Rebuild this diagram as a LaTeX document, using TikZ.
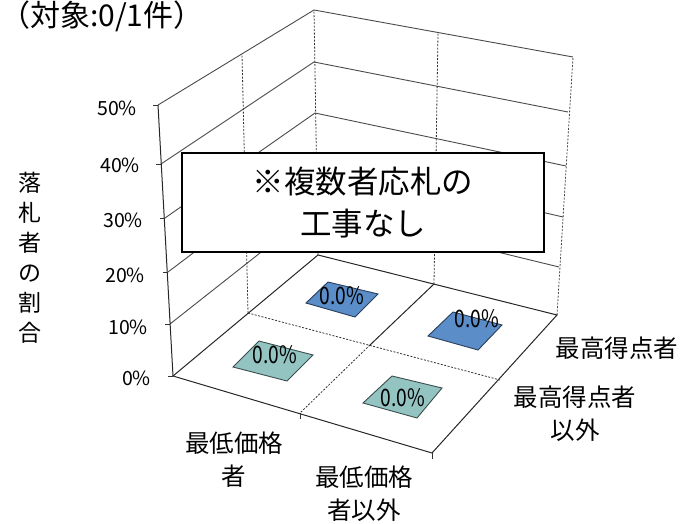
\documentclass[tikz,border=0pt]{standalone}
\usepackage{fontspec}
\setmainfont{Noto Sans CJK JP}
\usetikzlibrary{positioning}

\definecolor{barblue}{HTML}{5B8DC8}
\definecolor{barteal}{HTML}{93C4C2}
\definecolor{gridgray}{HTML}{4A4A4A}

\begin{document}
\begin{tikzpicture}[x=1pt, y=-1pt]
  \tikzset{wall/.style={gridgray, line width=0.9pt},
           floorline/.style={black!85, line width=1pt},
           midline/.style={black!80, line width=0.8pt, dash pattern=on 2pt off 1.5pt},
           tick/.style={black!80, line width=0.8pt},
           bar/.style={line width=0.9pt},
           pct/.style={font=\fontsize{24}{26}\selectfont, inner sep=0pt, xscale=0.8},
           cat/.style={font=\fontsize{24.5}{33}\selectfont, align=center, inner sep=0pt},
           ylbl/.style={font=\fontsize{19.5}{22}\selectfont, anchor=east, inner sep=0pt}}
  \useasboundingbox (0,0) rectangle (682,524);

  % L = left axis, B = back corner, R = right edge (0% ... 50%)
  \foreach \k/\lx/\ly/\bx/\by/\rx/\ry in {0/173/376/318/255/557/315,
      1/170/324/317/208/559/267, 2/168/272/316/160/563/217,
      3/165/218/315/113/566/166, 4/161/164/314/62/568/112,
      5/158/105/314/10/573/57}{
    \coordinate (L\k) at (\lx,\ly);
    \coordinate (B\k) at (\bx,\by);
    \coordinate (R\k) at (\rx,\ry);
  }
  \coordinate (F) at (432,453);   % front corner of floor
  \coordinate (Lt) at (242,54);
  \coordinate (Lm) at (248,313);
  \coordinate (Rt) at (438,33);
  \coordinate (Rm) at (434,284);
  \coordinate (Fm) at (300,413);
  \coordinate (Cm) at (500,380);
  \coordinate (X) at (370,345);

  % back walls
  \foreach \k in {1,...,5}
    \draw[wall] (L\k) -- (B\k) -- (R\k);
  \draw[midline] (B0) -- (B5);
  \draw[midline] (Lm) -- (Lt);
  \draw[midline] (Rm) -- (Rt);
  \draw[midline, gridgray] (R0) -- (R5);
  \draw[floorline] (L0) -- (L5);
  \foreach \k in {0,...,5}
    \draw[tick] (L\k) -- ++(-5,0);

  % floor
  \draw[floorline] (L0) -- (B0) -- (R0) -- (F) -- cycle;
  \draw[floorline] (Rm) -- (X);
  \draw[midline] (X) -- (Fm);
  \draw[midline] (Lm) -- (Cm);
  \draw[tick] (Fm) -- ++(0,6);
  \draw[tick] (F) -- ++(0,6);

  % bars (all 0.0%)
  \filldraw[bar, fill=barblue, draw=barblue!45!black]
    (306,303) -- (328,282) -- (378,294) -- (355,317) -- cycle;
  \filldraw[bar, fill=barblue, draw=barblue!45!black]
    (428,336) -- (453,312) -- (502,325) -- (478,350) -- cycle;
  \filldraw[bar, fill=barteal, draw=barteal!40!black]
    (233,367) -- (259,341) -- (313,355) -- (287,381) -- cycle;
  \filldraw[bar, fill=barteal, draw=barteal!40!black]
    (363,403) -- (392,376) -- (442,388) -- (417,418) -- cycle;
  \node[pct] (p1) at (342,296) {0.0\%};
  \node[pct] (p2) at (477,319) {0.0\%};
  \node[pct] (p3) at (275,355) {0.0\%};
  \node[pct] (p4) at (403,398) {0.0\%};

  % note box
  \node[draw, line width=2pt, fill=white, minimum width=362pt, minimum height=99pt,
        align=center, font=\fontsize{31.5}{42}\selectfont] (note) at (363,202.5)
        {※複数者応札の\\工事なし};

  % labels
  \node[font=\fontsize{30}{32}\selectfont, anchor=north west, inner sep=0pt] (title) at (0,1) {（対象:0/1件）};
  \node[font=\fontsize{23}{30}\selectfont, align=center, inner sep=0pt] (ylab) at (30,258)
        {落\\札\\者\\の\\割\\合};
  \foreach \v/\x/\y in {50/137/108, 40/140/165, 30/143/220, 20/145/275, 10/148/327, 0/151/378}
    \node[ylbl] (t\v) at (\x,\y) {\v\%};

  \node[cat] (lowest) at (234,460) {最低価格\\者};
  \node[cat] (notlowest) at (364,494) {最低価格\\者以外};
  \node[cat] (highest) at (617,348) {最高得点者};
  \node[cat] (nothighest) at (575,414) {最高得点者\\以外};
\end{tikzpicture}
\end{document}
